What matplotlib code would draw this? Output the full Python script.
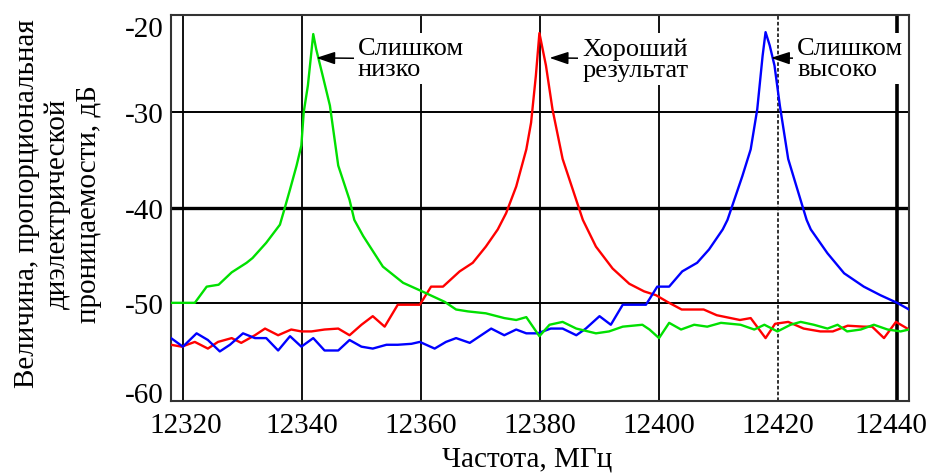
import matplotlib
matplotlib.use("Agg")
import matplotlib.pyplot as plt
from matplotlib.transforms import ScaledTranslation

plt.rcParams['font.family'] = ['Liberation Serif', 'DejaVu Serif']
plt.rcParams['axes.unicode_minus'] = False

# ---------------- data ----------------
freq_green = [12318.0, 12322.0, 12324.0, 12326.0, 12328.2, 12330.7, 12331.7, 12334.0, 12336.3,
              12337.0, 12338.0, 12339.1, 12339.9, 12340.3, 12341.0, 12341.9, 12342.4, 12343.5,
              12344.7, 12346.1, 12348.0, 12348.8, 12350.3, 12353.6, 12357.0, 12360.2, 12364.0,
              12365.9, 12367.9, 12370.9, 12374.0, 12376.0, 12377.7, 12379.9, 12381.6, 12383.8,
              12386.1, 12389.4, 12391.6, 12393.9, 12397.2, 12398.4, 12400.0, 12401.7, 12403.7,
              12405.9, 12408.1, 12410.4, 12413.7, 12416.0, 12417.7, 12419.9, 12422.1, 12423.8,
              12426.0, 12428.3, 12430.0, 12431.6, 12433.9, 12436.1, 12438.4, 12440.6, 12442.0]
db_green = [-50.0, -50.0, -48.3, -48.1, -46.8, -45.8, -45.3, -43.7, -41.8,
            -40.3, -38.1, -35.6, -33.5, -30.0, -27.2, -21.8, -23.4, -26.2,
            -29.3, -35.6, -39.2, -41.3, -43.0, -46.2, -47.9, -48.8, -49.9,
            -50.7, -50.9, -51.1, -51.6, -51.8, -51.5, -53.5, -52.3, -52.0,
            -52.7, -53.2, -53.0, -52.5, -52.3, -52.8, -53.7, -52.1, -52.8,
            -52.3, -52.5, -52.1, -52.3, -52.8, -52.3, -53.0, -52.3, -52.0,
            -52.3, -52.7, -52.3, -53.0, -52.8, -52.3, -52.8, -53.0, -52.8]

freq_red = [12318.0, 12319.8, 12322.0, 12324.2, 12325.9, 12328.2, 12329.8, 12332.1, 12333.8,
            12336.0, 12338.2, 12339.9, 12341.6, 12343.8, 12346.1, 12348.0, 12350.0, 12351.9,
            12353.9, 12356.1, 12359.8, 12361.7, 12363.7, 12366.5, 12368.7, 12370.9, 12372.9,
            12374.3, 12376.0, 12377.7, 12378.5, 12379.3, 12379.9, 12381.0, 12382.1, 12383.8,
            12385.5, 12387.2, 12389.4, 12392.2, 12395.0, 12397.5, 12399.5, 12401.4, 12403.8,
            12407.5, 12409.7, 12413.6, 12415.4, 12417.9, 12419.5, 12421.7, 12424.3, 12427.1,
            12429.2, 12431.7, 12434.4, 12435.8, 12437.8, 12439.8, 12442.0]
db_red = [-54.4, -54.6, -54.1, -54.8, -54.1, -53.7, -54.2, -53.4, -52.7,
          -53.4, -52.8, -53.0, -53.0, -52.8, -52.7, -53.4, -52.3, -51.4,
          -52.5, -50.2, -50.2, -48.3, -48.3, -46.7, -45.8, -44.1, -42.3,
          -40.6, -37.8, -33.9, -31.1, -26.2, -21.7, -25.1, -29.7, -34.9,
          -38.1, -41.3, -44.1, -46.4, -48.0, -48.8, -49.2, -49.9, -50.7,
          -50.7, -51.3, -51.8, -51.6, -53.7, -52.2, -52.0, -52.7, -53.0,
          -53.0, -52.4, -52.5, -52.5, -53.7, -52.0, -52.8]

freq_blue = [12318.0, 12320.0, 12322.3, 12324.2, 12326.2, 12327.9, 12330.1, 12332.1, 12334.0,
             12336.0, 12338.0, 12339.9, 12341.9, 12343.8, 12346.1, 12348.0, 12350.0, 12351.9,
             12354.2, 12356.1, 12358.4, 12359.8, 12362.3, 12364.2, 12365.9, 12368.2, 12371.8,
             12374.0, 12376.0, 12377.7, 12379.6, 12381.8, 12383.8, 12386.1, 12387.7, 12390.0,
             12391.9, 12393.9, 12397.8, 12399.7, 12401.7, 12403.9, 12406.4, 12408.4, 12410.7,
             12411.5, 12414.0, 12415.4, 12416.5, 12417.4, 12417.9, 12418.6, 12419.4, 12420.3,
             12421.7, 12423.1, 12424.8, 12425.5, 12428.3, 12431.1, 12434.4, 12437.2, 12440.0,
             12442.0]
db_blue = [-53.7, -54.6, -53.2, -53.9, -55.1, -54.4, -53.2, -53.7, -53.7,
           -55.0, -53.5, -54.6, -53.7, -55.0, -55.0, -53.9, -54.6, -54.8,
           -54.4, -54.4, -54.3, -54.1, -54.8, -54.1, -53.7, -54.2, -52.7,
           -53.4, -52.8, -53.2, -53.2, -52.7, -52.7, -53.4, -52.7, -51.4,
           -52.3, -50.2, -50.2, -48.3, -48.3, -46.7, -45.8, -44.4, -42.3,
           -41.3, -36.7, -33.9, -29.7, -24.1, -21.6, -23.0, -25.1, -29.3,
           -34.9, -37.8, -41.3, -42.3, -44.8, -46.9, -48.3, -49.2, -50.0,
           -50.7]

x_ticks = [12320, 12340, 12360, 12380, 12400, 12420, 12440]
y_ticks = [-20, -30, -40, -50, -60]

annotations = [
    ("Слишком\nнизко", (12342.4, -24.3), (12349.4, -24.4)),
    ("Хороший\nрезультат", (12381.6, -24.3), (12387.1, -24.4)),
    ("Слишком\nвысоко", (12418.8, -24.3), (12423.2, -24.4)),
]

# ---------------- figure ----------------
fig = plt.figure(figsize=(9.28, 4.77), dpi=100)
ax = fig.add_axes([171 / 928, 1 - 402 / 477, (909 - 171) / 928, (402 - 16) / 477])

ax.set_xlim(12318, 12442)
ax.set_ylim(-60.3, -19.8)

# grid lines
for xv in x_ticks:
    if xv == 12420:
        ax.axvline(xv, color='#222222', lw=1.3, ls=(0, (2, 1.2)), zorder=1)
    elif xv == 12440:
        ax.axvline(xv, color='black', lw=2.6, zorder=1)
    else:
        ax.axvline(xv, color='#111111', lw=1.4, zorder=1)
for yv in [-30, -40, -50]:
    ax.axhline(yv, color='black', lw=2.4 if yv == -40 else 1.4, zorder=1)

ax.plot(freq_red, db_red, color='#ff0000', lw=1.7, zorder=3)
ax.plot(freq_blue, db_blue, color='#0000ff', lw=1.7, zorder=3)
ax.plot(freq_green, db_green, color='#00e000', lw=1.7, zorder=4)

for txt, tip, pos in annotations:
    ax.annotate(txt, xy=tip, xytext=pos, ha='left', va='center', fontsize=19,
                linespacing=0.95, zorder=6,
                bbox=dict(boxstyle='square,pad=0.15', fc='white', ec='none'),
                arrowprops=dict(arrowstyle='-|>,head_length=0.6,head_width=0.2',
                                color='black', lw=1.1, shrinkA=0, shrinkB=0))

ax.set_xticks(x_ticks)
ax.set_yticks(y_ticks)
ax.tick_params(axis='both', length=0, labelsize=21)
ax.tick_params(axis='x', pad=8)
ax.tick_params(axis='y', pad=5)
for s in ax.spines.values():
    s.set_color('#333333')
    s.set_linewidth(1.5)

# small label nudges as in the reference
xlabels = ax.get_xticklabels()
xlabels[0].set_transform(xlabels[0].get_transform() + ScaledTranslation(3 / 100, 0, fig.dpi_scale_trans))
xlabels[-1].set_transform(xlabels[-1].get_transform() + ScaledTranslation(-6 / 100, 0, fig.dpi_scale_trans))
ylabels = ax.get_yticklabels()
ylabels[0].set_transform(ylabels[0].get_transform() + ScaledTranslation(0, -9 / 100, fig.dpi_scale_trans))
ylabels[-1].set_transform(ylabels[-1].get_transform() + ScaledTranslation(0, 6 / 100, fig.dpi_scale_trans))

fig.text(527 / 928, 1 - 460 / 477, "Частота, МГц", ha='center', va='center', fontsize=21)
fig.text(58 / 928, 1 - 204 / 477,
         "Величина, пропорциональная\nдиэлектрической\nпроницаемости, дБ",
         rotation=90, ha='center', va='center', multialignment='center',
         fontsize=21, linespacing=1.22)

fig.savefig("out.png", dpi=100)
